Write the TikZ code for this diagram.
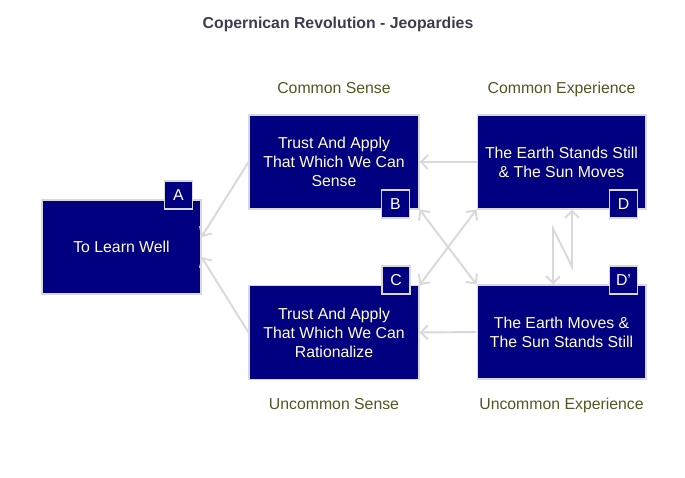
\documentclass[tikz,border=0pt]{standalone}
\usepackage{fontspec}
\setmainfont{Liberation Sans}
\usetikzlibrary{positioning,arrows.meta}
\definecolor{boxblue}{RGB}{0,0,128}
\definecolor{boxtext}{RGB}{255,255,215}
\definecolor{linkgray}{RGB}{217,217,217}
\definecolor{headtext}{RGB}{85,85,35}
\definecolor{titletext}{RGB}{60,60,80}
\tikzset{
	block/.style={rectangle, draw=linkgray, line width=0.6pt, fill=boxblue, text=boxtext, align=center, minimum height=1.88cm, inner sep=2pt, font=\fontsize{9}{10.8}\selectfont},
	tag/.style={rectangle, draw=linkgray, line width=0.6pt, fill=boxblue, text=white, minimum size=0.56cm, inner sep=0pt, font=\fontsize{9}{10.8}\selectfont},
	head/.style={font=\fontsize{9}{10.8}\selectfont, text=headtext, text height=7pt, text depth=2pt},
	link/.style={draw=linkgray, line width=1.1pt, -{Straight Barb[length=4pt,width=8pt]}},
	both/.style={link, {Straight Barb[length=4pt,width=8pt]}-{Straight Barb[length=4pt,width=8pt]}},
}
\begin{document}
\begin{tikzpicture}[x=0.02cm, y=-0.02cm]
			\useasboundingbox (0,0) rectangle (685,477);
			\node[font=\bfseries\fontsize{9}{10.8}\selectfont, text=titletext] (title) at (338,24) {Copernican Revolution - Jeopardies};
			% the four corner boxes and the goal
			\node[block, minimum width=3.18cm] (A) at (121.5,247) {To Learn Well};
			\node[block, minimum width=3.4cm] (B) at (334,162) {Trust And Apply\\That Which We Can\\Sense};
			\node[block, minimum width=3.4cm] (C) at (334,332.5) {Trust And Apply\\That Which We Can\\Rationalize};
			\node[block, minimum width=3.38cm] (D) at (561.5,162) {The Earth Stands Still\\\& The Sun Moves};
			\node[block, minimum width=3.38cm] (Dp) at (561.5,332) {The Earth Moves \&\\The Sun Stands Still};
			% letters
			\node[tag] (tA) at (178.5,195) {A};
			\node[tag] (tB) at (395.5,204) {B};
			\node[tag] (tC) at (396,280) {C};
			\node[tag] (tD) at (623.5,204) {D};
			\node[tag] (tDp) at (623.5,280) {D’};
			% headings
			\node[head, above=0.22cm of B] (hB) {Common Sense};
			\node[head, above=0.22cm of D] (hD) {Common Experience};
			\node[head, below=0.22cm of C] (hC) {Uncommon Sense};
			\node[head, below=0.22cm of Dp] (hDp) {Uncommon Experience};
			% links
			\draw[link] (B.west) -- ([yshift=0.2cm]A.east);
			\draw[link] (C.west) -- ([yshift=-0.2cm]A.east);
			\draw[link] (D.west) -- (B.east);
			\draw[link] (Dp.west) -- (C.east);
			\draw[both] (B.south east) -- (Dp.north west);
			\draw[both] (C.north east) -- (D.south west);
			\draw[both] ([xshift=0.21cm]D.south) -- ++(0,57) -- ++(-19,-38) -- ([xshift=-0.17cm]Dp.north);
		\end{tikzpicture}
\end{document}
